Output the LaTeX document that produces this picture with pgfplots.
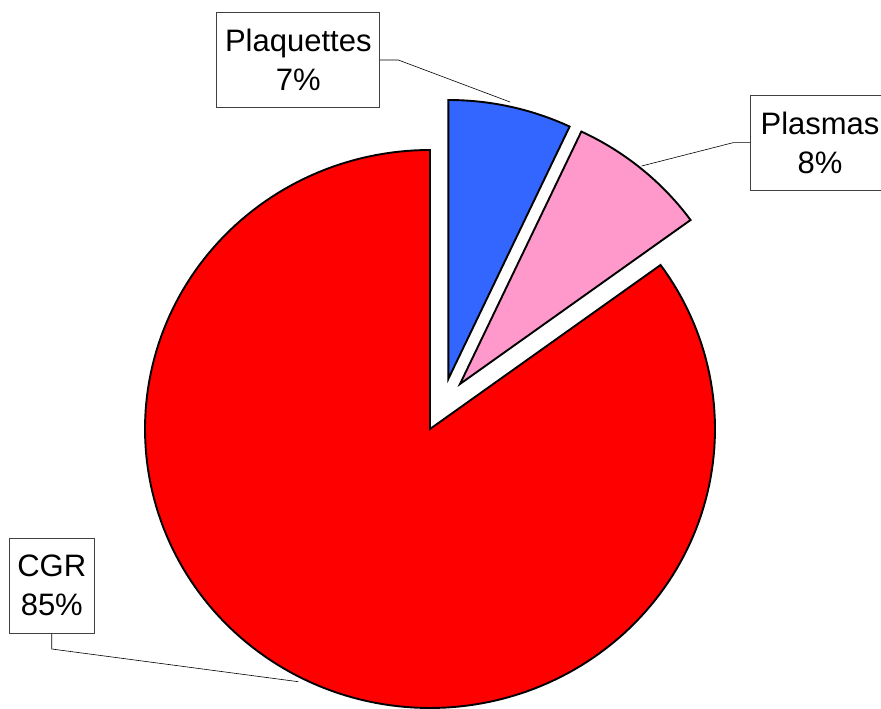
\documentclass[border=0pt]{standalone}
\usepackage{pgfplots}
\pgfplotsset{compat=1.18}
\usepackage{fontspec}
\setmainfont{Liberation Sans}
\definecolor{cgr}{HTML}{FF0000}
\definecolor{plaq}{HTML}{3366FF}
\definecolor{plas}{HTML}{FF99CC}
% slice values (percent)
\def\vPlaq{7}
\def\vPlas{8}
\def\vCGR{85}
\tikzset{box/.style={draw=black!75, line width=0.8pt, fill=white, align=center,
    font=\fontsize{31}{39}\selectfont, inner sep=0pt}}
\begin{document}
\begin{tikzpicture}
\pgfmathsetmacro\aA{90}
\pgfmathsetmacro\aB{\aA-3.6*\vPlaq}
\pgfmathsetmacro\aC{\aB-3.6*\vPlas}
\pgfmathsetmacro\aD{\aC-3.6*\vCGR}
\useasboundingbox (0,0) rectangle (881pt,709pt);
\clip (0,0) rectangle (881pt,709pt);
\begin{scope}[overlay]
\begin{axis}[hide axis, scale only axis, width=881pt, height=709pt,
  xmin=0, xmax=881, ymin=0, ymax=709, at={(0,0)}, anchor=south west]
% leader lines
\addplot[black, line width=0.6pt] coordinates {(380,649) (398.3,649) (510,607)};
\addplot[black, line width=0.6pt] coordinates {(750,566.3) (733,566.3) (641.7,543)};
\addplot[black, line width=0.6pt] coordinates {(51.7,75.7) (51.7,60) (298.3,27.3)};
% slices
\addplot[draw=black, line width=1.9pt, fill=plaq, domain=\aB:\aA, samples=60, variable=\t]
  ({448.3+285*cos(\t)},{330+279*sin(\t)}) -- (axis cs:448.3,330) -- cycle;
\addplot[draw=black, line width=1.9pt, fill=plas, domain=\aC:\aB, samples=60, variable=\t]
  ({460+285*cos(\t)},{325+279*sin(\t)}) -- (axis cs:460,325) -- cycle;
\addplot[draw=black, line width=1.9pt, fill=cgr, domain=\aD:\aC, samples=200, variable=\t]
  ({430+285*cos(\t)},{280+279*sin(\t)}) -- (axis cs:430,280) -- cycle;
% labels
\node[box, minimum width=140pt, minimum height=95pt] at (axis cs:820,565.8) {Plasmas\\8\%};
\node[box, minimum width=163pt, minimum height=95pt] at (axis cs:298.3,649) {Plaquettes\\7\%};
\node[box, minimum width=85pt, minimum height=95pt] at (axis cs:51.8,123.2) {CGR\\85\%};
\end{axis}
\end{scope}
\end{tikzpicture}
\end{document}
